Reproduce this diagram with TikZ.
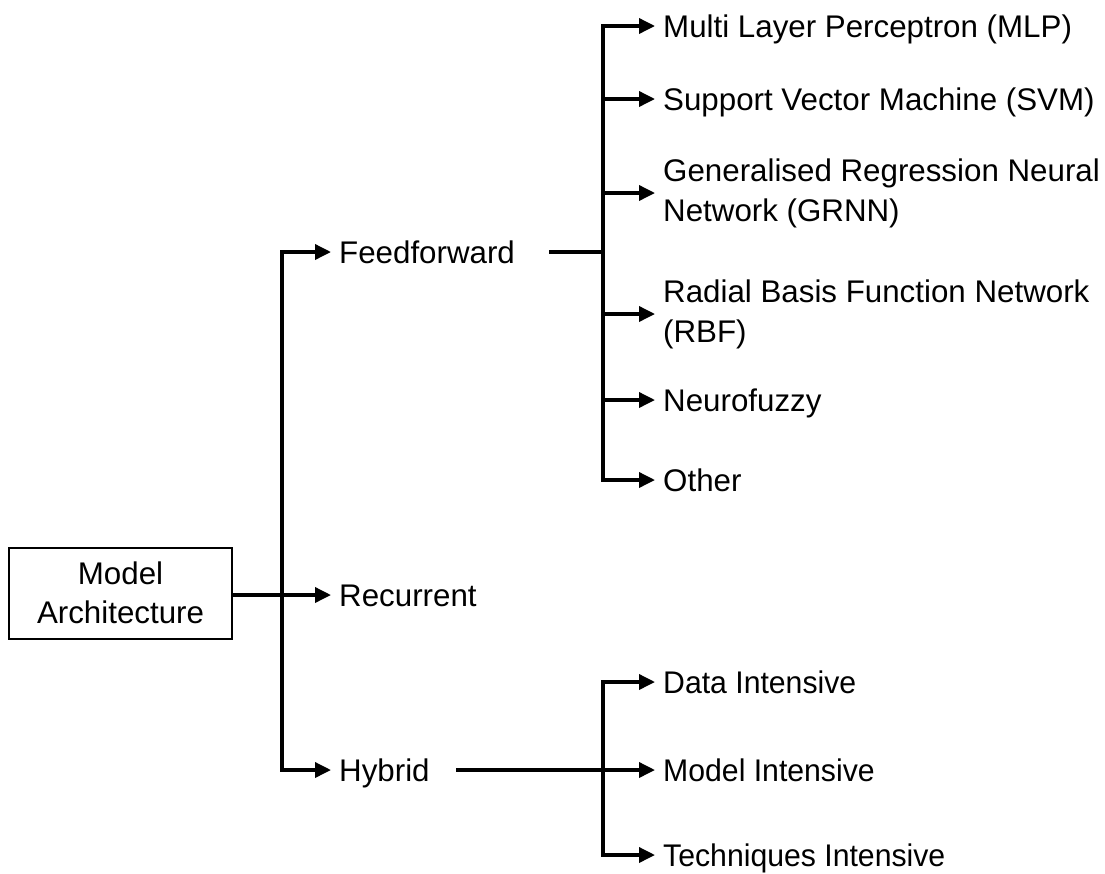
\documentclass[tikz,border=0pt]{standalone}
\usepackage{fontspec}
\setmainfont{Liberation Sans}
\newfontfamily\narrowsans[FakeStretch=0.965]{Liberation Sans}
\usetikzlibrary{arrows.meta}

\begin{document}
\begin{tikzpicture}[x=1pt,y=-1pt,
  conn/.style={line width=3.5pt, line cap=rect},
  arr/.style={conn, -{Triangle[length=16pt,width=15pt]}},
  leaftext/.style={anchor=west, inner xsep=8pt, inner ysep=0pt, align=left,
    font=\fontsize{31.3}{40}\selectfont},
  oneline/.style={leaftext, text height=22.4pt, text depth=0pt},
  narrowline/.style={oneline, font=\fontsize{31.3}{40}\narrowsans},
  rootbox/.style={draw, line width=2pt, minimum width=223pt, minimum height=91pt,
    align=center, inner sep=0pt, font=\fontsize{31.3}{38.5}\selectfont}]

\useasboundingbox (0,0) rectangle (1105,873);

% root
\node[rootbox] (root) at (120.5,593) {Model\\Architecture};

% first level
\node[oneline] (ff)  at (331,252) {Feedforward};
\node[oneline] (rec) at (331,595) {Recurrent};
\node[oneline] (hyb) at (331,770) {Hybrid};

% feedforward children
\node[oneline]  (mlp)  at (655,26)  {Multi Layer Perceptron (MLP)};
\node[oneline]  (svm)  at (655,99)  {Support Vector Machine (SVM)};
\node[leaftext] (grnn) at (655,193) {Generalised Regression Neural\\Network (GRNN)};
\node[leaftext] (rbf)  at (655,314) {Radial Basis Function Network\\(RBF)};
\node[oneline]  (nf)   at (655,400) {Neurofuzzy};
\node[oneline]  (oth)  at (655,480) {Other};

% hybrid children
\node[narrowline] (di) at (655,682) {Data Intensive};
\node[narrowline] (mi) at (655,770) {Model Intensive};
\node[narrowline] (ti) at (655,855) {Techniques Intensive};

% trunk positions
\coordinate (j1) at (282,0);
\coordinate (j2) at (603,0);
\coordinate (j3) at (603,700);

% root to first level
\draw[conn] (j1 |- ff.west) -- (j1 |- hyb.west);
\draw[arr] (root.east |- rec.west) -- (rec.west);
\foreach \n in {ff,hyb} \draw[arr] (j1 |- \n.west) -- (\n.west);

% feedforward branch
\draw[conn] ([xshift=28pt]ff.east) -- (j2 |- ff.west);
\draw[conn] (j2 |- mlp.west) -- (j2 |- oth.west);
\foreach \n in {mlp,svm,grnn,rbf,nf,oth} \draw[arr] (j2 |- \n.west) -- (\n.west);

% hybrid branch
\draw[conn] (j3 |- di.west) -- (j3 |- ti.west);
\draw[arr] ([xshift=20pt]hyb.east) -- (mi.west);
\foreach \n in {di,ti} \draw[arr] (j3 |- \n.west) -- (\n.west);

\end{tikzpicture}
\end{document}
